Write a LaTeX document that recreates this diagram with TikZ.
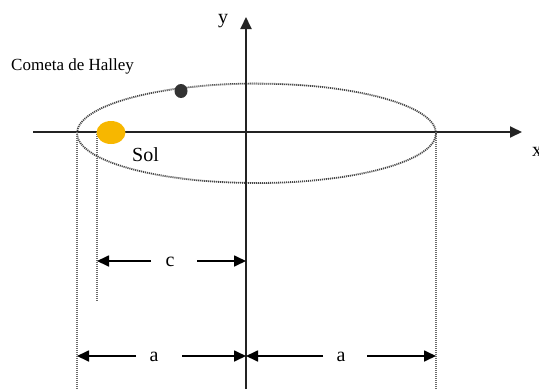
\documentclass[tikz,border=0pt]{standalone}
\usepackage{fontspec}
\setmainfont{Liberation Serif}
\usetikzlibrary{arrows.meta}
\definecolor{sunorange}{RGB}{247,183,0}
\definecolor{axisgray}{RGB}{35,35,35}
\definecolor{orbitgray}{RGB}{70,70,70}
\tikzset{
  axisline/.style={line width=1.9pt, draw=axisgray, -{Triangle[length=12pt,width=11pt]}},
  orbit/.style={line width=1.8pt, draw=orbitgray, dash pattern=on 1.1pt off 0.9pt},
  guide/.style={line width=1.3pt, draw=orbitgray!80, dash pattern=on 1pt off 1pt},
  dimarrow/.style={line width=1.7pt, draw=black, -{Triangle[length=12pt,width=11pt]}},
  lbl/.style={font=\fontsize{20}{22}\selectfont, inner sep=0pt},
}
\begin{document}
\begin{tikzpicture}[x=1pt,y=-1pt]
\useasboundingbox (0,0) rectangle (539,389);
% coordinates
\coordinate (xl) at (33,132);
\coordinate (xr) at (522,132);
\coordinate (yb) at (246,389);
\coordinate (yt) at (246,17);
\coordinate (v1) at (77,132);
\coordinate (v2) at (436,132);
\coordinate (f1) at (97,132);
\coordinate (v1b) at (77,389);
\coordinate (v2b) at (436,389);
\coordinate (f1b) at (97,301);
% orbit
\draw[orbit] (256.5,133.3) ellipse [x radius=179.5, y radius=49.7];
% axes
\draw[axisline] (xl) -- (xr);
\draw[axisline] (yb) -- (yt);
% guides
\draw[guide] (v1) -- (v1b);
\draw[guide] (v2) -- (v2b);
\draw[guide] (f1) -- (f1b);
% sun and comet
\fill[sunorange] (111,132.5) ellipse [x radius=14.5, y radius=11.5];
\fill[black!80] (181,91) ellipse [x radius=6.5, y radius=7];
% labels
\node[lbl] (ylab) at (223,21) {y};
\node[lbl, anchor=west] (xlab) at (532,152) {x};
\node[font=\fontsize{17}{19}\selectfont, inner sep=0pt, anchor=west] (comet) at (11,66) {Cometa de Halley};
\node[lbl, anchor=west] (sol) at (132,155) {Sol};
% dimension c
\node[lbl] (clab) at (170,262) {c};
\coordinate (c1) at (97,261);
\coordinate (c2) at (246,261);
\draw[dimarrow] (151,261) -- (c1);
\draw[dimarrow] (197,261) -- (c2);
% dimension a left
\node[lbl] (alab1) at (154,357) {a};
\coordinate (a1) at (77,356);
\coordinate (a2) at (246,356);
\coordinate (a3) at (436,356);
\draw[dimarrow] (136,356) -- (a1);
\draw[dimarrow] (182,356) -- (a2);
% dimension a right
\node[lbl] (alab2) at (341,357) {a};
\draw[dimarrow] (323,356) -- (a2);
\draw[dimarrow] (367,356) -- (a3);
\end{tikzpicture}
\end{document}
